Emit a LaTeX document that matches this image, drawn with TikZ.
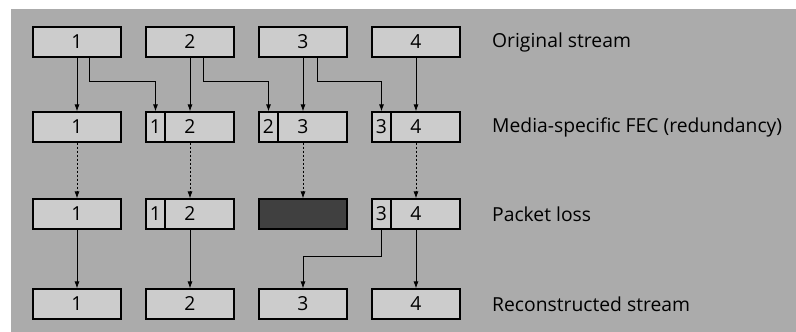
\documentclass[tikz,border=0pt]{standalone}
\usepackage{fontspec}
\setmainfont{Open Sans}
\usetikzlibrary{arrows.meta}
\definecolor{panel}{gray}{0.67}
\definecolor{boxfill}{gray}{0.80}
\definecolor{lost}{gray}{0.25}
\begin{document}
\begin{tikzpicture}[x=1pt,y=-1pt,
  txt/.style={font=\fontsize{19.3}{21}\selectfont},
  pkt/.style={txt,draw=black,line width=1.1pt,fill=boxfill,minimum width=88pt,minimum height=30pt,inner sep=0pt},
  redpart/.style={txt,draw=black,line width=1.1pt,fill=boxfill,minimum width=19pt,minimum height=30pt,inner sep=0pt,anchor=west},
  lostbox/.style={draw=black,line width=1.1pt,fill=lost,minimum width=88pt,minimum height=30pt,inner sep=0pt},
  arr/.style={draw=black,line width=0.9pt,-{Latex[length=7pt,width=5pt]}},
  darr/.style={arr,dash pattern=on 2pt off 2pt},
  lab/.style={txt,anchor=west,inner sep=0pt}]
\useasboundingbox (0,0) rectangle (796,332);
\fill[panel] (11,9) rectangle (796,332);
% row 1
\node[pkt] (r1c1) at (77,42) {1};
\node[pkt] (r1c2) at (190,42) {2};
\node[pkt] (r1c3) at (303,42) {3};
\node[pkt] (r1c4) at (416,42) {4};
% row 2
\node[pkt] (r2c1) at (77,127) {1};
\node[pkt] (r2c2) at (190,127) {2};
\node[redpart] (r2c2s) at (r2c2.west) {1};
\node[pkt] (r2c3) at (303,127) {3};
\node[redpart] (r2c3s) at (r2c3.west) {2};
\node[pkt] (r2c4) at (416,127) {4};
\node[redpart] (r2c4s) at (r2c4.west) {3};
% row 3
\node[pkt] (r3c1) at (77,214) {1};
\node[pkt] (r3c2) at (190,214) {2};
\node[redpart] (r3c2s) at (r3c2.west) {1};
\node[lostbox] (r3c3) at (303,214) {};
\node[pkt] (r3c4) at (416,214) {4};
\node[redpart] (r3c4s) at (r3c4.west) {3};
% row 4
\node[pkt] (r4c1) at (77,304) {1};
\node[pkt] (r4c2) at (190,304) {2};
\node[pkt] (r4c3) at (303,304) {3};
\node[pkt] (r4c4) at (416,304) {4};
% labels
\node[lab] (l1) at (492,42) {Original stream};
\node[lab] (l2) at (492,127) {Media-specific FEC (redundancy)};
\node[lab] (l3) at (492,214) {Packet loss};
\node[lab] (l4) at (492,304) {Reconstructed stream};
% row 1 -> row 2
\draw[arr] (r1c1.south) -- (r2c1.north);
\draw[arr] (r1c2.south) -- (r2c2.north);
\draw[arr] (r1c3.south) -- (r2c3.north);
\draw[arr] (r1c4.south) -- (r2c4.north);
\draw[arr] ([xshift=12pt]r1c1.south) -- ++(0,24) -| (r2c2s.north);
\draw[arr] ([xshift=13pt]r1c2.south) -- ++(0,24) -| (r2c3s.north);
\draw[arr] ([xshift=14pt]r1c3.south) -- ++(0,24) -| (r2c4s.north);
% row 2 -> row 3
\draw[darr] (r2c1.south) -- (r3c1.north);
\draw[darr] (r2c2.south) -- (r3c2.north);
\draw[darr] (r2c3.south) -- (r3c3.north);
\draw[darr] (r2c4.south) -- (r3c4.north);
% row 3 -> row 4
\draw[arr] (r3c1.south) -- (r4c1.north);
\draw[arr] (r3c2.south) -- (r4c2.north);
\draw[arr] (r3c4.south) -- (r4c4.north);
\draw[arr] (r3c4s.south) -- ++(0,27) -| (r4c3.north);
\end{tikzpicture}
\end{document}
